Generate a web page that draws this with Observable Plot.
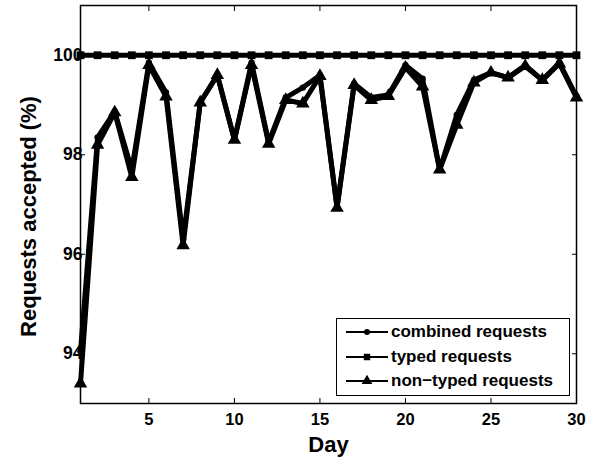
<!DOCTYPE html>
<html>
<head>
<meta charset="utf-8">
<script src="https://cdn.jsdelivr.net/npm/d3@7"></script>
<script src="https://cdn.jsdelivr.net/npm/@observablehq/plot@0.6"></script>
<style>
  html, body { margin: 0; padding: 0; background: #fff; }
  #wrap { position: relative; width: 589px; height: 459px; font-family: "Liberation Sans", Arial, sans-serif; }
  #wrap svg { font-family: "Liberation Sans", Arial, sans-serif; font-weight: bold; }
  [aria-label="x-axis label"] text, [aria-label="y-axis label"] text { font-size: 22px; }
  [aria-label="y-axis tick label"] text { font-size: 17.5px; }
  #legend { position: absolute; border: 1.5px solid #000; background: #fff; padding: 1px 4px 1px 8px; }
  #legend .row { display: flex; align-items: center; height: 24.5px; font-weight: bold; font-size: 17px; color: #000; white-space: nowrap; }
  #legend svg { margin-right: 2px; }
</style>
</head>
<body>
<div id="wrap"></div>
<script>
const days = [1,2,3,4,5,6,7,8,9,10,11,12,13,14,15,16,17,18,19,20,21,22,23,24,25,26,27,28,29,30];
const combined = [94.05, 98.35, 98.87, 97.7, 99.85, 99.25, 96.3, 99.05, 99.6, 98.3, 99.85, 98.25, 99.15, 99.35, 99.6, 96.95, 99.43, 99.15, 99.2, 99.8, 99.53, 97.7, 98.8, 99.5, 99.65, 99.55, 99.8, 99.5, 99.85, 99.17];
const typed = [100,100,100,100,100,100,100,100,100,100,100,100,100,100,100,100,100,100,100,100,100,100,100,100,100,100,100,100,100,100];
const nonTyped = [93.4, 98.2, 98.85, 97.55, 99.8, 99.17, 96.18, 99.05, 99.6, 98.3, 99.8, 98.22, 99.1, 99.03, 99.58, 96.93, 99.4, 99.1, 99.18, 99.75, 99.37, 97.7, 98.6, 99.45, 99.65, 99.55, 99.78, 99.5, 99.83, 99.15];
const seriesNames = ["combined requests", "typed requests", "non\u2212typed requests"];
const seriesSymbols = ["circle", "square", "triangle"];
const xTicks = [5, 10, 15, 20, 25, 30];
const yTicks = [94, 96, 98, 100];

const seriesValues = [combined, typed, nonTyped];
const rows = [];
seriesValues.forEach((vals, i) => vals.forEach((v, j) => rows.push({day: days[j], value: v, series: seriesNames[i], symbol: seriesSymbols[i]})));

const markSize = {circle: 3.2, square: 4.4, triangle: 5};

const chart = Plot.plot({
  width: 589,
  height: 459,
  marginLeft: 80,
  marginRight: 13,
  marginTop: 5,
  marginBottom: 56,
  style: {fontSize: "16.5px", fontWeight: "bold", color: "#000", background: "#fff"},
  x: {domain: [1, 30]},
  y: {domain: [93, 101]},
  marks: [
    Plot.axisX({ticks: xTicks, tickSize: -5, tickPadding: 15, label: "Day", labelAnchor: "center", labelOffset: 48, labelArrow: "none"}),
    Plot.axisX({anchor: "top", ticks: xTicks, tickSize: -5, tickFormat: () => "", label: null}),
    Plot.axisY({ticks: yTicks, tickSize: -5, tickPadding: 3, label: "Requests accepted (%)", labelAnchor: "center", labelOffset: 60, labelArrow: "none"}),
    Plot.axisY({anchor: "right", ticks: yTicks, tickSize: -5, tickFormat: () => "", label: null}),
    Plot.frame({stroke: "#000", strokeWidth: 1.5}),
    Plot.line(rows, {x: "day", y: "value", z: "series", stroke: "#000", strokeWidth: 5, strokeLinejoin: "round"}),
    ...seriesSymbols.map((s, i) => Plot.dot(rows.filter(d => d.symbol === s), {x: "day", y: "value", symbol: () => s, r: markSize[s], fill: "#000", stroke: "none"}))
  ]
});
chart.setAttribute("style", (chart.getAttribute("style") || "") + ";overflow:visible");
// shift the y-axis title down a little, as in the reference
const yLabel = chart.querySelector('[aria-label="y-axis label"]');
if (yLabel) {
  const g = document.createElementNS("http://www.w3.org/2000/svg", "g");
  g.setAttribute("transform", "translate(0,12)");
  yLabel.parentNode.insertBefore(g, yLabel);
  g.appendChild(yLabel);
}
const wrap = document.getElementById("wrap");
wrap.appendChild(chart);

// legend overlay (inside the axes, lower right)
const legend = document.createElement("div");
legend.id = "legend";
legend.style.left = "336px";
legend.style.top = "318px";
legend.style.width = "220px";
const symPath = {
  circle: d3.symbol(d3.symbolCircle, 28)(),
  square: d3.symbol(d3.symbolSquare, 42)(),
  triangle: d3.symbol(d3.symbolTriangle, 50)()
};
seriesNames.forEach((name, i) => {
  const row = document.createElement("div");
  row.className = "row";
  row.innerHTML = `<svg width="44" height="14" viewBox="0 0 44 14"><line x1="1" x2="43" y1="7" y2="7" stroke="#000" stroke-width="2"/><path d="${symPath[seriesSymbols[i]]}" transform="translate(22,7)" fill="#000"/></svg><span>${name}</span>`;
  legend.appendChild(row);
});
wrap.appendChild(legend);
</script>
</body>
</html>
